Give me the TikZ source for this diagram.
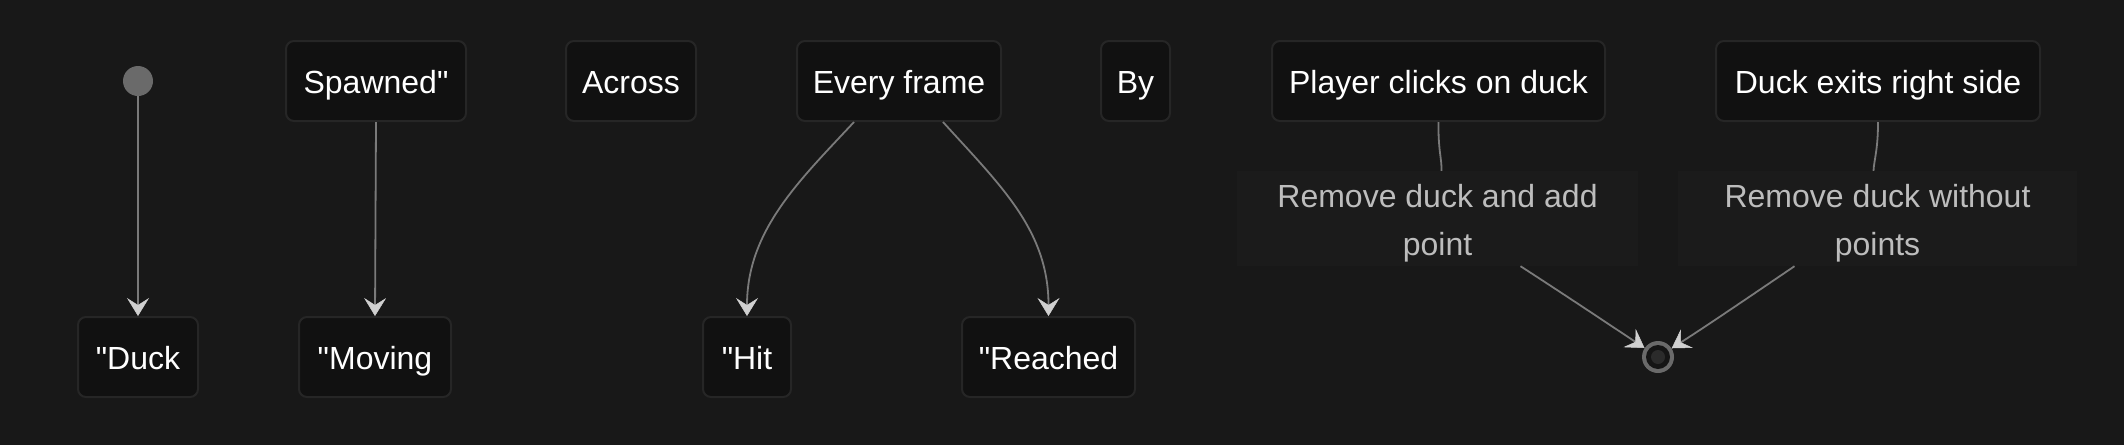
\documentclass[tikz,border=0pt]{standalone}
\usepackage{fontspec}
\setmainfont{Liberation Sans}[Ligatures=TeXOff]
\usetikzlibrary{arrows.meta}
\definecolor{bg}{HTML}{181818}
\definecolor{nodefill}{HTML}{111111}
\definecolor{nodeline}{HTML}{262626}
\definecolor{edgecol}{HTML}{7A7A7A}
\definecolor{tipcol}{HTML}{D0D0D0}
\definecolor{labfill}{HTML}{1B1B1B}
\definecolor{labtext}{HTML}{BDBDBD}
\definecolor{startcol}{HTML}{6A6A6A}
\definecolor{endring}{HTML}{151515}
\definecolor{endcore}{HTML}{2B2B2B}
\begin{document}
\begin{tikzpicture}[x=1pt,y=-1pt,
  statebox/.style={draw=nodeline, line width=2pt, fill=nodefill, rounded corners=8pt,
    inner sep=0pt, minimum height=80pt, text=white,
    font=\fontsize{32}{38}\selectfont, text height=26pt, text depth=2pt},
  labbox/.style={fill=labfill, inner sep=0pt, minimum height=95pt},
  labtxt/.style={inner sep=0pt, text=labtext, align=center, font=\fontsize{32}{48}\selectfont},
  edge/.style={draw=edgecol, line width=1.8pt},
  arr/.style={edge, -{Stealth[length=18pt,width=22pt,inset=7pt,color=tipcol,fill=tipcol,line width=0.5pt]}}
]
\useasboundingbox (0,0) rectangle (2124,445);
\fill[bg] (0,0) rectangle (2124,445);

\node[circle, fill=startcol, minimum size=30pt, inner sep=0pt] (start) at (138,81) {};
\node[statebox, minimum width=180pt] (spawned) at (376,81) {Spawned"};
\node[statebox, minimum width=130pt] (across) at (631,81) {Across};
\node[statebox, minimum width=204pt] (every) at (899,81) {Every frame};
\node[statebox, minimum width=69pt] (by) at (1135.5,81) {By};
\node[statebox, minimum width=333pt] (player) at (1438.5,81) {Player clicks on duck};
\node[statebox, minimum width=324pt] (exits) at (1878,81) {Duck exits right side};

\node[statebox, minimum width=120pt] (duck) at (138,357) {"Duck};
\node[statebox, minimum width=152pt] (moving) at (375,357) {"Moving};
\node[statebox, minimum width=88pt] (hit) at (747,357) {"Hit};
\node[statebox, minimum width=173pt] (reached) at (1048.5,357) {"Reached};

\node[labbox, minimum width=401pt] (lab1) at (1437.5,218.5) {};
\node[labtxt, yshift=-5pt] (lab1t) at (lab1) {Remove duck and add\\point};
\node[labbox, minimum width=399pt] (lab2) at (1877.5,218.5) {};
\node[labtxt, yshift=-5pt] (lab2t) at (lab2) {Remove duck without\\points};

\node[circle, fill=startcol, minimum size=32pt, inner sep=0pt] (end) at (1658,357) {};
\fill[endring] (end.center) circle (12pt);
\fill[endcore] (end.center) circle (7pt);

\draw[arr] (start.south) -- (duck.north);
\draw[arr] (spawned.south) -- (moving.north);
\draw[arr] ([xshift=-45pt]every.south) .. controls (800,180) and (747,230) .. (hit.north);
\draw[arr] ([xshift=44pt]every.south) .. controls (1000,185) and (1048.5,230) .. (reached.north);
\draw[edge] (player.south) .. controls (1438,150) and (1442,160) .. ([xshift=4pt]lab1.north);
\draw[edge] (exits.south) .. controls (1878,150) and (1874,160) .. ([xshift=-4pt]lab2.north);
\draw[arr] ([xshift=83pt]lab1.south) .. controls (1565,295) and (1610,325) .. (end);
\draw[arr] ([xshift=-83pt]lab2.south) .. controls (1752,295) and (1708,325) .. (end);
\end{tikzpicture}
\end{document}
